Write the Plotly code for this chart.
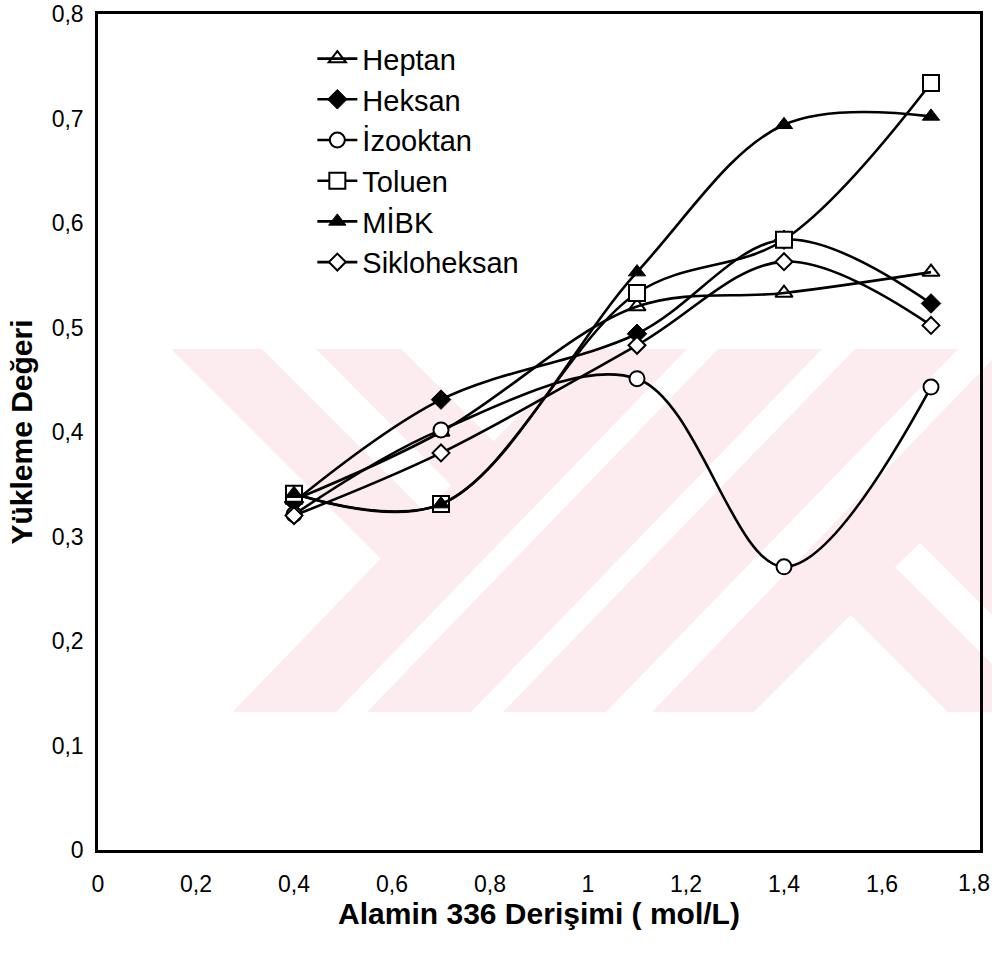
import plotly.graph_objects as go

# ---- data ----
x_vals = [0.4, 0.7, 1.1, 1.4, 1.7]
heptan = [0.335, 0.40, 0.52, 0.533, 0.553]
heksan = [0.333, 0.431, 0.494, 0.584, 0.523]
izooktan = [0.321, 0.402, 0.451, 0.271, 0.443]
toluen = [0.341, 0.331, 0.533, 0.584, 0.734]
mibk = [0.341, 0.331, 0.553, 0.694, 0.702]
sikloheksan = [0.32, 0.38, 0.483, 0.563, 0.502]

series_names = ["Heptan", "Heksan", "İzooktan", "Toluen", "MİBK", "Sikloheksan"]
series_values = [heptan, heksan, izooktan, toluen, mibk, sikloheksan]
x_ticks = [0, 0.2, 0.4, 0.6, 0.8, 1, 1.2, 1.4, 1.6, 1.8]
x_tick_labels = ["0", "0,2", "0,4", "0,6", "0,8", "1", "1,2", "1,4", "1,6", "1,8"]
y_ticks = [0, 0.1, 0.2, 0.3, 0.4, 0.5, 0.6, 0.7, 0.8]

# ---- styles ----
marker_styles = [
    dict(symbol="triangle-up-open", size=15, color="black", line=dict(width=2, color="black")),
    dict(symbol="diamond", size=15, color="black", line=dict(width=1, color="black")),
    dict(symbol="circle", size=15, color="white", line=dict(width=2, color="black")),
    dict(symbol="square", size=16, color="white", line=dict(width=2, color="black")),
    dict(symbol="triangle-up", size=15, color="black", line=dict(width=1, color="black")),
    dict(symbol="diamond", size=13, color="white", line=dict(width=2, color="black")),
]

W, H = 992, 953
PL, PR, PT, PB = 98, 980, 14, 850  # plot frame in window pixels
L, R, T, B = PL, W - PR, PT, H - PB


def px(xs, ys):
    return ((xs - PL) / (PR - PL), (PB - ys) / (PB - PT))


def poly(points):
    pts = [px(a, b) for a, b in points]
    return "M " + " L ".join(f"{a:.5f},{b:.5f}" for a, b in pts) + " Z"


watermark = [
    [(171, 349), (262, 349), (430, 517), (383, 561)],
    [(316, 349), (401.5, 349), (498.5, 446), (456, 490)],
    [(232.5, 712), (336, 712), (687, 349), (583, 349)],
    [(367, 712), (471, 712), (822, 349), (718, 349)],
    [(503, 712), (606, 712), (958, 349), (855, 349)],
    [(652, 712), (995, 357), (995, 618), (920, 543), (895, 567), (995, 667),
     (995, 712), (947.6, 712), (850.8, 615), (754, 712)],
]

fig = go.Figure()
for name, vals, ms in zip(series_names, series_values, marker_styles):
    fig.add_trace(go.Scatter(
        x=x_vals, y=vals, name=name, mode="lines+markers",
        line=dict(color="black", width=2.6, shape="spline", smoothing=1.0),
        marker=ms, legendgroup=name,
    ))

shapes = []
for p in watermark:
    shapes.append(dict(type="path", path=poly(p), xref="paper", yref="paper",
                       fillcolor="#fdecef", line=dict(width=0), layer="below"))

font_family = "Arial, Liberation Sans, sans-serif"

# last x tick label is placed as right-anchored text so it stays inside the page
shown_x_labels = x_tick_labels[:-1] + [""]
last_label = dict(
    x=x_ticks[-1], xref="x", y=0, yref="paper", yanchor="top",
    xanchor="right", xshift=12, yshift=-18, text=x_tick_labels[-1],
    showarrow=False, font=dict(size=23, family=font_family, color="black"),
)

fig.update_layout(
    width=W, height=H,
    margin=dict(l=L, r=R, t=T, b=B, pad=0),
    paper_bgcolor="white", plot_bgcolor="rgba(0,0,0,0)",
    font=dict(family=font_family, color="black", size=23),
    shapes=shapes,
    annotations=[last_label],
    showlegend=True,
    legend=dict(
        x=0.243, y=0.977, xanchor="left", yanchor="top",
        bgcolor="rgba(0,0,0,0)", font=dict(size=29, family=font_family),
        tracegroupgap=0, itemwidth=40,
    ),
    xaxis=dict(
        range=[0, 1.8], tickvals=x_ticks, ticktext=shown_x_labels,
        showgrid=False, zeroline=False,
        showline=True, linecolor="black", linewidth=2.5, mirror=True,
        ticks="", ticklabelstandoff=12, tickfont=dict(size=23), automargin=False,
        ticklabeloverflow="allow",
        title=dict(text="<b>Alamin 336 Derişimi ( mol/L)</b>", font=dict(size=30), standoff=0),
    ),
    yaxis=dict(
        range=[0, 0.8], tickvals=y_ticks,
        ticktext=[f"{v:g}".replace(".", ",") for v in y_ticks],
        showgrid=False, zeroline=False,
        showline=True, linecolor="black", linewidth=2.5, mirror=True,
        ticks="", ticklabelstandoff=7, tickfont=dict(size=23), automargin=False,
        ticklabeloverflow="allow",
        title=dict(text="<b>Yükleme Değeri</b>", font=dict(size=30), standoff=11),
    ),
)

fig.write_html(
    "out.html",
    config={"displayModeBar": False},
    post_script="document.body.style.margin='0px';document.body.style.overflow='hidden';",
)
